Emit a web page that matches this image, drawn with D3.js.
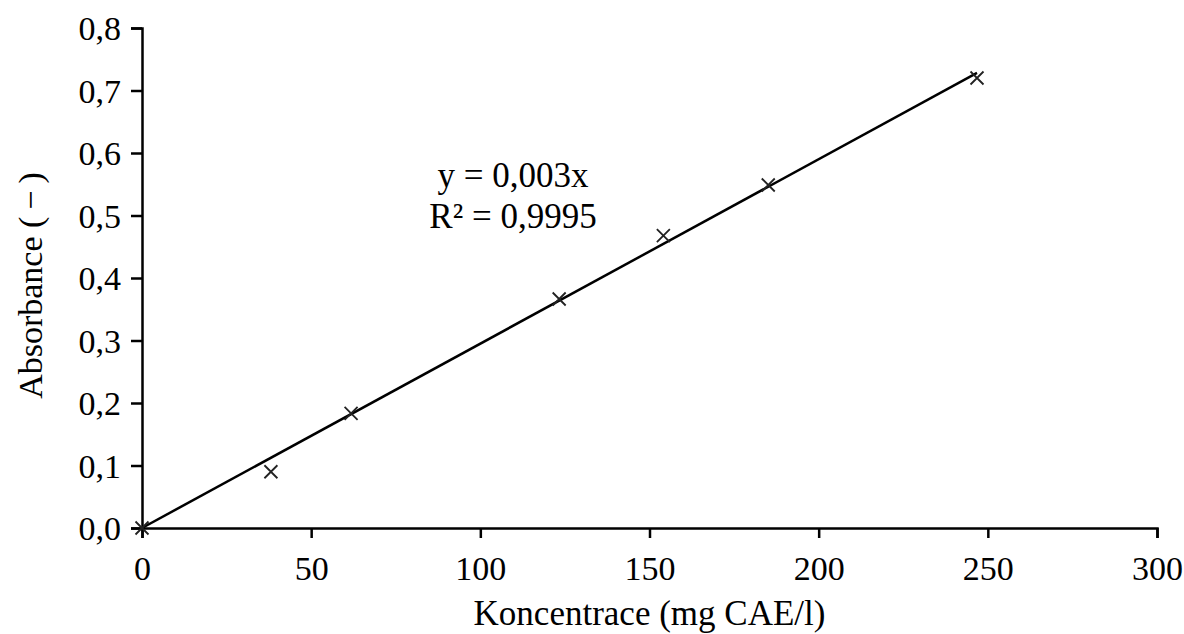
<!DOCTYPE html>
<html>
<head>
<meta charset="utf-8">
<script src="https://cdn.jsdelivr.net/npm/d3@7"></script>
<style>
  body { margin: 0; background: #fff; }
  svg { display: block; }
  svg text { font-family: "Liberation Serif", "Times New Roman", serif; fill: #000; }
</style>
</head>
<body>
<div class="chart"></div>
<script>
// measured points (concentration mg CAE/l, absorbance)
const concentration = [0, 38.1, 61.8, 123.3, 154.1, 185.1, 246.8];
const absorbance = [0, 0.090, 0.1835, 0.3664, 0.4677, 0.5488, 0.720];
const xTicks = [0, 50, 100, 150, 200, 250, 300];
const yTicks = [0, 0.1, 0.2, 0.3, 0.4, 0.5, 0.6, 0.7, 0.8];
const slope = 0.00295; // trendline through origin
const equationLines = ["y = 0,003x", "R² = 0,9995"];

const width = 1184;
const height = 634;
const margin = {top: 28, right: 27, bottom: 106, left: 142};

const x = d3.scaleLinear().domain([0, 300]).range([margin.left, width - margin.right]);
const y = d3.scaleLinear().domain([0, 0.8]).range([height - margin.bottom, margin.top]);
const fmtY = v => d3.format(".1f")(v).replace(".", ",");

const svg = d3.select('.chart')
              .append('svg')
              .attr('width', width)
              .attr('height', height);

// axes
const xAxis = svg.append("g")
    .attr("transform", `translate(0,${y(0)})`)
    .call(d3.axisBottom(x).tickValues(xTicks).tickSize(10).tickPadding(8).tickFormat(d3.format("d")));
const yAxis = svg.append("g")
    .attr("transform", `translate(${x(0)},0)`)
    .call(d3.axisLeft(y).tickValues(yTicks).tickSize(11).tickPadding(10).tickFormat(fmtY));

[xAxis, yAxis].forEach(g => {
  g.attr("font-family", null).attr("font-size", 34);
  g.select(".domain").attr("stroke", "#000").attr("stroke-width", 2.5);
  g.selectAll(".tick line").attr("stroke", "#000").attr("stroke-width", 2.5);
});
xAxis.selectAll(".tick text").attr("dy", "1em");
yAxis.selectAll(".tick text").attr("dy", "0.34em");

// trendline
const xEnd = d3.max(concentration);
svg.append("line")
    .attr("x1", x(0)).attr("y1", y(0))
    .attr("x2", x(xEnd)).attr("y2", y(slope * xEnd))
    .attr("stroke", "#000")
    .attr("stroke-width", 2.5);

// markers
const pts = concentration.map((c, i) => [c, absorbance[i]]);
const r = 6.5;
svg.append("g").selectAll("path")
  .data(pts)
  .join("path")
    .attr("d", d => {
      const cx = x(d[0]), cy = y(d[1]);
      return `M${cx - r},${cy - r}L${cx + r},${cy + r}M${cx - r},${cy + r}L${cx + r},${cy - r}`;
    })
    .attr("stroke", "#222")
    .attr("stroke-width", 1.8)
    .attr("fill", "none");

// equation
svg.append("text")
    .attr("text-anchor", "middle")
    .attr("font-size", 35)
  .selectAll("tspan")
  .data(equationLines)
  .join("tspan")
    .attr("x", 513)
    .attr("y", (d, i) => 187 + i * 41)
    .text(d => d);

// axis titles
svg.append("text")
    .attr("x", (x(0) + x(300)) / 2)
    .attr("y", 625)
    .attr("text-anchor", "middle")
    .attr("font-size", 35)
    .text("Koncentrace (mg CAE/l)");

const yTitle = svg.append("text")
    .attr("transform", `translate(42,${282}) rotate(-90)`)
    .attr("text-anchor", "middle")
    .attr("font-size", 34);
yTitle.append("tspan").text("Absorbance ");
yTitle.append("tspan").attr("letter-spacing", 7).text("(−)");
</script>
</body>
</html>
